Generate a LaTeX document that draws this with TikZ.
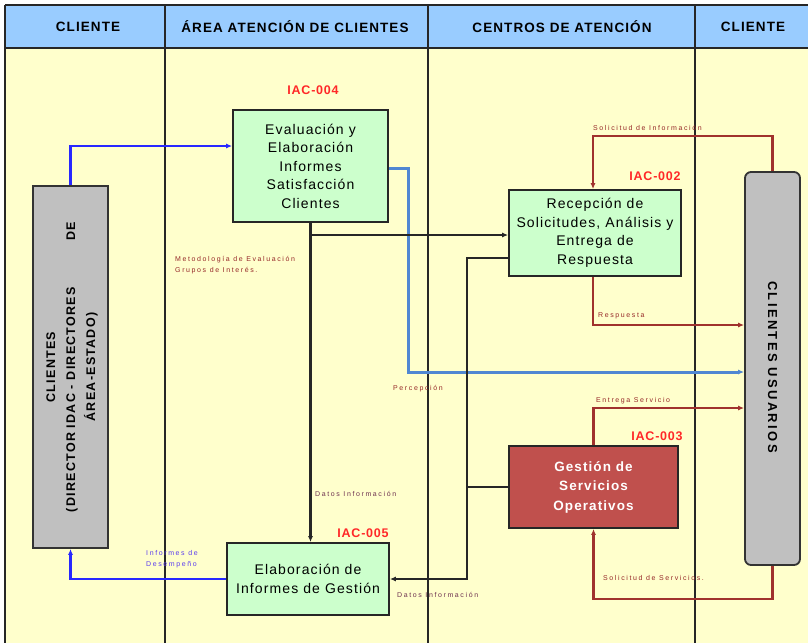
\documentclass[tikz,border=0pt]{standalone}
\usepackage{fontspec}
\setmainfont{Liberation Sans}
\newfontfamily\lblfont[LetterSpace=23]{Liberation Sans}
\newfontfamily\boxfont[LetterSpace=8]{Liberation Sans}
\newfontfamily\headfont[LetterSpace=8]{Liberation Sans}
\newfontfamily\codefont[LetterSpace=6]{Liberation Sans}
\newfontfamily\actorfont[LetterSpace=10]{Liberation Sans}
\newfontfamily\userfont[LetterSpace=18]{Liberation Sans}
\usetikzlibrary{arrows.meta}
\definecolor{headblue}{RGB}{153,204,255}
\definecolor{paper}{RGB}{255,255,204}
\definecolor{procgreen}{RGB}{204,255,204}
\definecolor{procred}{RGB}{192,80,77}
\definecolor{clientgray}{RGB}{192,192,192}
\definecolor{flowred}{RGB}{160,50,45}
\definecolor{flowblue}{RGB}{40,40,255}
\definecolor{feedblue}{RGB}{80,135,210}
\definecolor{codered}{RGB}{255,40,40}
\definecolor{notered}{RGB}{150,40,40}
\definecolor{notepurple}{RGB}{110,50,80}
\definecolor{noteblue}{RGB}{90,60,240}
\tikzset{
  x=1pt, y=-1pt,
  lane/.style={line width=1.8pt, black!85},
  proc/.style={draw=black!85, line width=1.8pt, fill=procgreen, align=center,
    inner sep=0pt, font=\boxfont\fontsize{14}{18.5}\selectfont},
  procdark/.style={proc, fill=procred, text=white, font=\boxfont\bfseries\fontsize{13.5}{19.5}\selectfont},
  actor/.style={draw=black!80, line width=1.8pt, fill=clientgray, inner sep=0pt},
  code/.style={text=codered, font=\codefont\bfseries\fontsize{12.5}{13}\selectfont},
  head/.style={font=\headfont\bfseries\fontsize{13.5}{14}\selectfont},
  note/.style={anchor=west, inner sep=0pt, align=left, font=\lblfont\fontsize{7}{11}\selectfont},
  tip/.style={-{Latex[length=6pt,width=5pt]}},
  blackflow/.style={tip, line width=2.2pt, black!85},
  blueflow/.style={tip, line width=2.2pt, flowblue},
  redflow/.style={tip, line width=2.2pt, flowred},
  feedflow/.style={tip, line width=3pt, feedblue}
}
\begin{document}
\begin{tikzpicture}
\useasboundingbox (0,0) rectangle (808,643);
% swimlane background
\fill[paper] (5,48) rectangle (808,643);
\fill[headblue] (5,5) rectangle (808,48);
\draw[lane] (5,5) -- (808,5);
\draw[lane] (5,48) -- (808,48);
\foreach \xx in {5,165,428,695} \draw[lane] (\xx,5) -- (\xx,643);
\node[head] (h1) at (88,27) {CLIENTE};
\node[head] (h2) at (295,27) {ÁREA ATENCIÓN DE CLIENTES};
\node[head] (h3) at (562,27) {CENTROS DE ATENCIÓN};
\node[head] (h4) at (753,27) {CLIENTE};

% actors
\node[actor, minimum width=75pt, minimum height=362pt] (lbox) at (70.5,367) {};
\node[rotate=90, align=center, font=\actorfont\bfseries\fontsize{12.5}{20}\selectfont] (ltxt) at (72,367)
  {CLIENTES\\\makebox[290pt]{(DIRECTOR IDAC - DIRECTORES\hfill DE}\\ÁREA-ESTADO)};
\node[actor, rounded corners=6pt, minimum width=55pt, minimum height=393pt] (rbox) at (772.5,368.5) {};
\node[rotate=-90, font=\userfont\bfseries\fontsize{13}{14}\selectfont] (rtxt) at (772.5,367) {CLIENTES USUARIOS};

% processes
\node[proc, minimum width=155pt, minimum height=112pt] (b4) at (310.5,166)
  {Evaluación y\\Elaboración\\Informes\\Satisfacción\\Clientes};
\node[proc, minimum width=172pt, minimum height=86pt] (b2) at (595,233)
  {Recepción de\\Solicitudes, Análisis y\\Entrega de\\Respuesta};
\node[procdark, minimum width=169pt, minimum height=82pt] (b3) at (593.5,487)
  {Gestión de\\Servicios\\Operativos};
\node[proc, minimum width=162pt, minimum height=72pt] (b5) at (308,579)
  {Elaboración de\\Informes de Gestión};

\node[code] (c4) at (313,90) {IAC-004};
\node[code] (c2) at (655,176) {IAC-002};
\node[code] (c3) at (657,436) {IAC-003};
\node[code] (c5) at (363,533) {IAC-005};

% flows
\draw[blueflow] (lbox.north) |- ([yshift=20pt]b4.west);
\draw[blueflow] (b5.west) -| (lbox.south);
\draw[feedflow] ([yshift=-2pt]b4.east) -- ++(20,0) |- ([yshift=-3.5pt]rbox.west);

\coordinate (j1) at (310.5,235);
\coordinate (k1) at (467,258);
\draw[blackflow] (b4.south) -- (b4.south |- b5.north);
\draw[blackflow] (j1) -- (j1 -| b2.west);
\draw[blackflow] ([yshift=-25pt]b2.west) -- (k1) |- (b5.east);
\draw[line width=2.2pt, black!85] (b3.west) -- (b3.west -| k1);

\draw[redflow] (rbox.north) -- ++(0,-35) -| ([xshift=-2pt]b2.north);
\draw[redflow] ([xshift=-2pt]b2.south) |- ([yshift=43.5pt]rbox.west);
\draw[redflow] (b3.north) |- ([yshift=-39.5pt]rbox.west);
\draw[redflow] (rbox.south) -- ++(0,33) -| (b3.south);

% flow notes
\node[note, text=notered] (n1) at (593,128) {Solicitud de Información};
\node[note, text=notered] (n2) at (598,316) {Respuesta};
\node[note, text=notered] (n3) at (393,389) {Percepción};
\node[note, text=notered] (n4) at (596,401) {Entrega Servicio};
\node[note, text=notered] (n5) at (603,578) {Solicitud de Servicios.};
\node[note, text=notered] (n6) at (175,265) {Metodología de Evaluación\\Grupos de Interés.};
\node[note, text=notepurple] (n7) at (315,494) {Datos Información};
\node[note, text=notepurple] (n8) at (397,595) {Datos Información};
\node[note, text=noteblue] (n9) at (146,559) {Informes de\\Desempeño};
\end{tikzpicture}
\end{document}
